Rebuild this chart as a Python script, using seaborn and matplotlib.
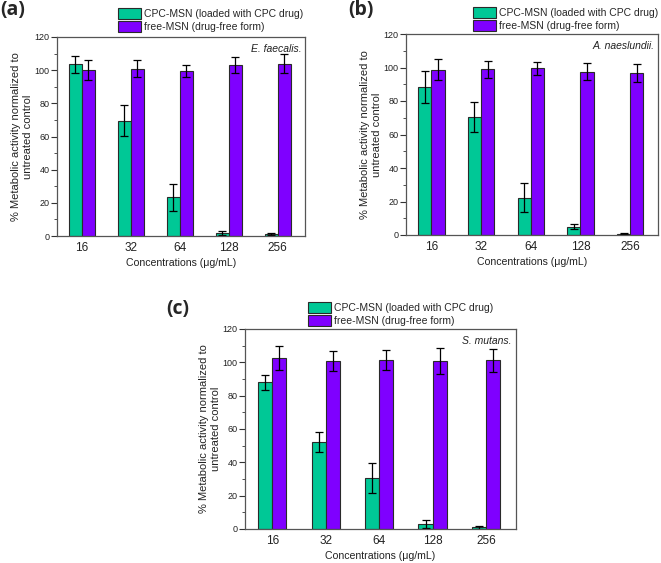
import numpy as np
import pandas as pd
import matplotlib.pyplot as plt
from matplotlib.patches import Patch
from matplotlib.ticker import MultipleLocator
import seaborn as sns

sns.set_theme(style="ticks")
plt.rcParams['font.family'] = ['Liberation Sans', 'DejaVu Sans']

concentrations = ['16', '32', '64', '128', '256']
series_names = ['CPC-MSN (loaded with CPC drug)', 'free-MSN (drug-free form)']
colors = ['#00C896', '#7F00FF']

# E. faecalis
a_cpc = [103.5, 69.5, 23.3, 2.0, 1.0]
a_cpc_err = [5.0, 9.2, 8.0, 1.2, 0.6]
a_free = [100.0, 101.0, 99.5, 103.0, 104.0]
a_free_err = [6.0, 5.0, 3.8, 5.0, 5.8]

# A. naeslundii
b_cpc = [88.2, 70.2, 22.3, 5.0, 0.7]
b_cpc_err = [9.6, 9.0, 8.5, 1.6, 0.4]
b_free = [98.8, 99.0, 99.5, 97.6, 96.7]
b_free_err = [6.5, 5.0, 4.0, 5.0, 5.5]

# S. mutans
c_cpc = [88.0, 52.0, 30.6, 3.0, 1.0]
c_cpc_err = [4.3, 6.0, 9.2, 2.5, 1.0]
c_free = [102.8, 101.0, 101.3, 100.8, 101.3]
c_free_err = [7.3, 6.0, 6.0, 7.8, 7.0]

fig = plt.figure(figsize=(6.61, 5.63), dpi=100)


def make_df(cpc, cpc_err, free, free_err):
    return pd.DataFrame({
        'conc': concentrations * 2,
        'series': [series_names[0]] * 5 + [series_names[1]] * 5,
        'value': cpc + free,
        'err': cpc_err + free_err,
    })


def panel(rect, df, species, tag, tag_xy, leg_xy):
    ax = fig.add_axes(rect)
    sns.barplot(data=df, x='conc', y='value', hue='series', order=concentrations,
                hue_order=series_names, palette=colors, width=0.53, errorbar=None,
                edgecolor='#2a2a2a', linewidth=0.8, saturation=1, legend=False, ax=ax)
    # error bars at each bar centre (patches come out in hue order)
    bars = ax.patches[:len(df)]
    for p, (_, row) in zip(bars, df.iterrows()):
        ax.errorbar(p.get_x() + p.get_width() / 2, row['value'], yerr=row['err'],
                    color='black', capsize=2.8, elinewidth=0.9, capthick=0.9, fmt='none')
    ax.set_ylim(0, 120)
    ax.set_xlim(-0.51, 4.56)
    ax.yaxis.set_major_locator(MultipleLocator(20))
    ax.yaxis.set_minor_locator(MultipleLocator(10))
    ax.tick_params(axis='both', which='major', width=0.8,
                   colors='#333333', labelcolor='#222222', direction='out')
    ax.tick_params(axis='x', labelsize=8.5, length=0, pad=4)
    ax.tick_params(axis='y', labelsize=6.5, length=4, pad=1.5)
    ax.tick_params(axis='y', which='minor', length=2.3, width=0.6, colors='#333333')
    for s in ax.spines.values():
        s.set_visible(True)
        s.set_color('#555555')
        s.set_linewidth(0.9)
    ax.set_xlabel('Concentrations (\u03bcg/mL)', fontsize=7.6, labelpad=3, color='#222222')
    ax.set_ylabel('% Metabolic activity normalized to\nuntreated control', fontsize=8,
                  labelpad=1, color='#222222', linespacing=1.25)
    ax.text(0.985, 0.965, species, transform=ax.transAxes, ha='right', va='top',
            fontsize=7.5, style='italic', color='#222222')
    fig.text(tag_xy[0], tag_xy[1], tag, fontsize=14, fontweight='bold',
             ha='left', va='top', family='Open Sans')
    handles = [Patch(facecolor=c, edgecolor='#2a2a2a', linewidth=0.8) for c in colors]
    fig.legend(handles, series_names, loc='upper left', bbox_to_anchor=leg_xy,
               frameon=False, fontsize=7.5, handlelength=2.2, handleheight=1.2,
               handletextpad=0.25, labelspacing=0.2, borderpad=0, borderaxespad=0)
    return ax


W, H = 661, 563


def rect_px(l, t, r, b):
    return [l / W, 1 - b / H, (r - l) / W, (b - t) / H]


panel(rect_px(57, 37, 305, 236), make_df(a_cpc, a_cpc_err, a_free, a_free_err),
      'E. faecalis.', '(a)', (0 / W, 1 - 0 / H), (118 / W, 1 - 8 / H))
panel(rect_px(406, 34, 658, 235), make_df(b_cpc, b_cpc_err, b_free, b_free_err),
      'A. naeslundii.', '(b)', (348 / W, 1 - 0 / H), (473 / W, 1 - 7 / H))
panel(rect_px(245, 329, 516, 529), make_df(c_cpc, c_cpc_err, c_free, c_free_err),
      'S. mutans.', '(c)', (166 / W, 1 - 299 / H), (308 / W, 1 - 302 / H))

fig.savefig('out.png', dpi=100)
